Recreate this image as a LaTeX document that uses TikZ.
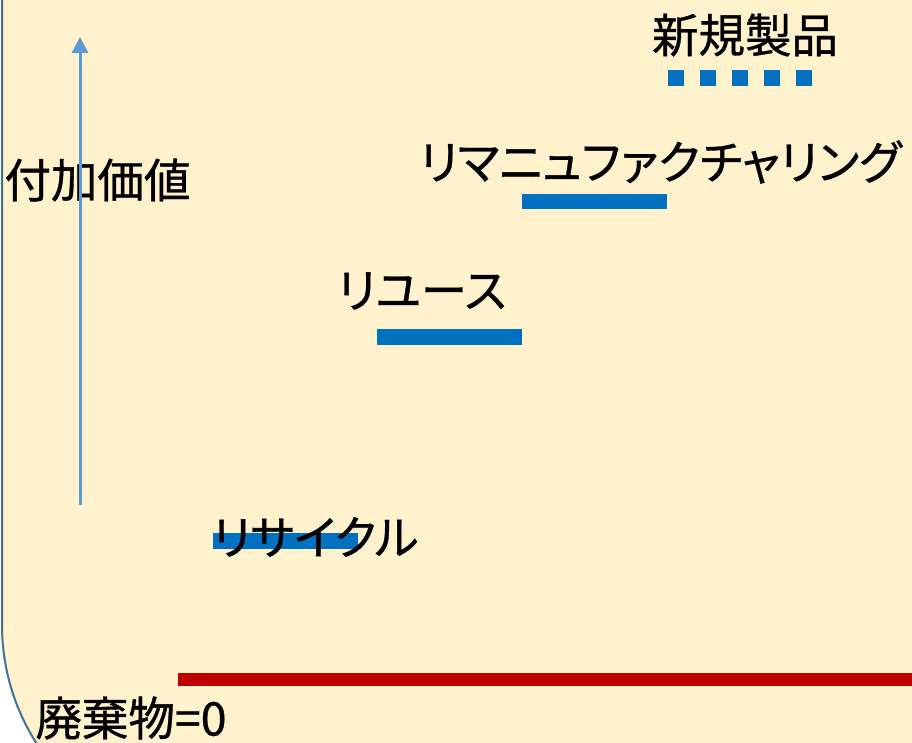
\documentclass[tikz,border=0pt]{standalone}
\usepackage{fontspec}
\setmainfont{Noto Sans CJK JP}
\newfontfamily\jpp{Noto Sans CJK JP}[RawFeature={+palt}, FakeBold=0.8]
\usetikzlibrary{arrows.meta}
\definecolor{cream}{HTML}{FFF2CC}
\definecolor{framecol}{HTML}{41719C}
\definecolor{barblue}{HTML}{0070C0}
\definecolor{arrowblue}{HTML}{5B9BD5}
\definecolor{wastered}{HTML}{C00000}
\tikzset{
  lbl/.style={inner sep=0pt, outer sep=0pt, font=\jpp\fontsize{46.5}{50}\selectfont, text=black},
  levelbar/.style={line width=16pt, barblue},
}
\begin{document}
\begin{tikzpicture}[x=1pt,y=-1pt]
\useasboundingbox (0,0) rectangle (912,742);
\clip (0,0) rectangle (912,742);
\fill[white] (0,0) rectangle (912,742);
\filldraw[fill=cream, draw=framecol, line width=2pt, rounded corners=220pt] (2,-300) rectangle (1200,845);
% bars
\coordinate (rcA) at (213,541); \coordinate (rcB) at (358,541);
\coordinate (ruA) at (377,337); \coordinate (ruB) at (522,337);
\coordinate (rmA) at (522,201.5); \coordinate (rmB) at (667,201.5);
\coordinate (npA) at (668,78); \coordinate (npB) at (812,78);
\coordinate (wA) at (178,679.5); \coordinate (wB) at (930,679.5);
\draw[levelbar] (rcA) -- (rcB);
\draw[levelbar] (ruA) -- (ruB);
\draw[levelbar, line width=15pt] (rmA) -- (rmB);
\draw[levelbar, dash pattern=on 16pt off 16pt] (npA) -- (npB);
\draw[wastered, line width=13pt] (wA) -- (wB);
% labels
\node[lbl] (shinki) at (745,35) {新規製品};
\node[lbl] (reman) at (660.5,162) {リマニュファクチャリング};
\node[lbl] (reuse) at (422,291) {リユース};
\node[lbl] (recycle) at (315.5,537) {リサイクル};
\node[lbl] (fuka) at (97.5,180) {付加価値};
\node[lbl] (haiki) at (131,718) {廃棄物=0};
% arrow
\coordinate (abot) at (80,505);
\coordinate (atop) at (80,37);
\draw[arrowblue, line width=3pt, -{Triangle[width=16pt,length=16pt]}] (abot) -- (atop);
\end{tikzpicture}
\end{document}
